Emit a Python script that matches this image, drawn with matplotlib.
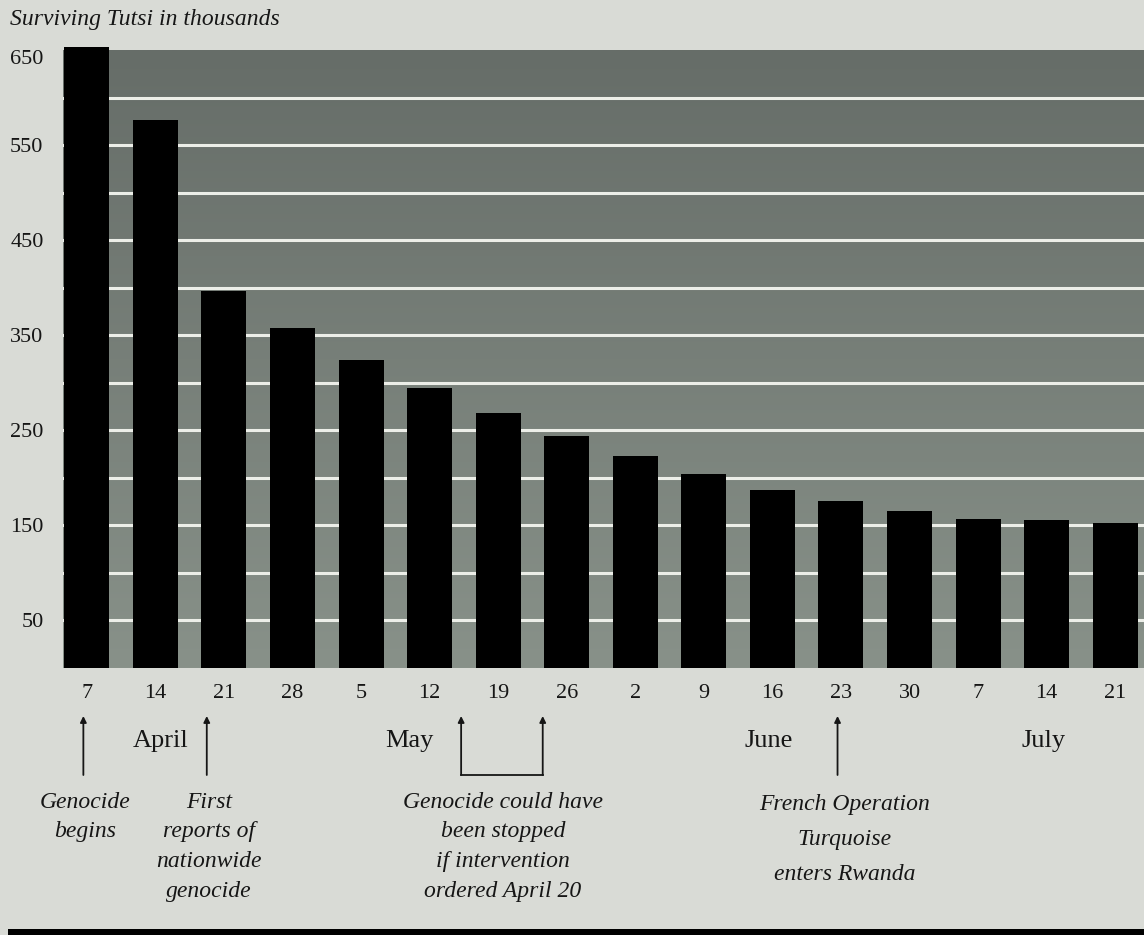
"""
Surviving Tutsi in thousands, weekly, April - July 1994,
with the annotations from the book page underneath.
"""

import numpy as np
import matplotlib
matplotlib.use("Agg")
import matplotlib.pyplot as plt
import matplotlib.transforms as mtransforms
from matplotlib.colors import LinearSegmentedColormap
from matplotlib.patches import Rectangle
from matplotlib.lines import Line2D

# weekly data
week_days = ["7", "14", "21", "28", "5", "12", "19", "26",
             "2", "9", "16", "23", "30", "7", "14", "21"]
survivors = [653, 576, 396, 357, 324, 294, 268, 244,
             223, 204, 187, 175, 165, 157, 155, 152]

y_ticks = [50, 150, 250, 350, 450, 550, 650]
grid_levels = [50, 100, 150, 200, 250, 300, 350, 400, 450, 500, 550, 600]

months = ["April", "May", "June", "July"]
month_at = [1.07, 4.7, 9.95, 13.95]   # bar index each month name sits under

PAGE = "#d9dbd6"
INK = "#161616"
FONT = "Liberation Serif"

W, H = 1144, 935
fig = plt.figure(figsize=(W / 100, H / 100), dpi=100, facecolor=PAGE)

def fy(py):
    # pixel row on the page -> figure fraction
    return 1 - py / H

ax = fig.add_axes([63 / W, fy(667.7), (W - 63) / W, fy(50) - fy(667.7)])
ax.set_facecolor(PAGE)

x = np.arange(len(survivors))
xmin, xmax = -0.347, 15.42

# grey band, darker at the top
grad = LinearSegmentedColormap.from_list("band", ["#666d68", "#889189"])
ax.imshow(np.linspace(0, 1, 256).reshape(-1, 1), cmap=grad, aspect="auto",
          extent=(xmin, xmax, 0, 650), origin="upper", zorder=0)

for g in grid_levels:
    ax.axhline(g, color="#eceee8", lw=2.2, zorder=1)

bars = ax.bar(x, survivors, width=0.656, color="black", zorder=2)
for b in bars:
    b.set_clip_on(False)

ax.set_xlim(xmin, xmax)
ax.set_ylim(0, 650)
for s in ax.spines.values():
    s.set_visible(False)

ax.set_yticks(y_ticks)
ax.set_yticklabels([str(v) for v in y_ticks], fontsize=16, family=FONT, color=INK)
ax.tick_params(axis="y", length=0, pad=14)
# top label sits a little under the band edge on the page
ax.get_yticklabels()[-1].set_va("top")
ax.set_xticks(x)
ax.set_xticklabels(week_days, fontsize=16, family=FONT, color=INK)
ax.tick_params(axis="x", length=0, pad=12)

# axis title, top left
fig.text(10 / W, fy(25), "Surviving Tutsi in thousands", fontsize=17,
         family=FONT, style="italic", color=INK, ha="left", va="baseline")

# x in bar units, y in figure fraction
blend = mtransforms.blended_transform_factory(ax.transData, fig.transFigure)

for name, pos in zip(months, month_at):
    fig.text(pos, fy(747), name, transform=blend, fontsize=19, family=FONT,
             color=INK, ha="center", va="baseline")

def arrow_up(xpos):
    ax.annotate("", xy=(xpos, fy(716)), xytext=(xpos, fy(775)),
                xycoords=blend, textcoords=blend, annotation_clip=False,
                arrowprops=dict(arrowstyle="-|>", color=INK, lw=1.3,
                                mutation_scale=9, shrinkA=0, shrinkB=0))

arrow_up(-0.05)
arrow_up(1.75)
arrow_up(5.46)
arrow_up(6.65)
arrow_up(10.95)
fig.add_artist(Line2D([5.46, 6.65], [fy(775), fy(775)], transform=blend,
                      color=INK, lw=1.3))

def note(xpos, lines, first_base, step):
    for k, line in enumerate(lines):
        fig.text(xpos, fy(first_base + k * step), line, transform=blend,
                 fontsize=17, family=FONT, style="italic", color=INK,
                 ha="center", va="baseline")

note(-0.02, ["Genocide", "begins"], 808, 29.5)
note(1.78, ["First", "reports of", "nationwide", "genocide"], 808, 29.5)
note(6.07, ["Genocide could have", "been stopped", "if intervention",
            "ordered April 20"], 808, 29.5)
note(11.05, ["French Operation", "Turquoise", "enters Rwanda"], 810, 35)

# heavy rule at the foot of the page
fig.add_artist(Rectangle((8 / W, 0), 1, fy(929), transform=fig.transFigure,
                         color="black", lw=0))

fig.savefig("out.png", dpi=100, facecolor=PAGE)
